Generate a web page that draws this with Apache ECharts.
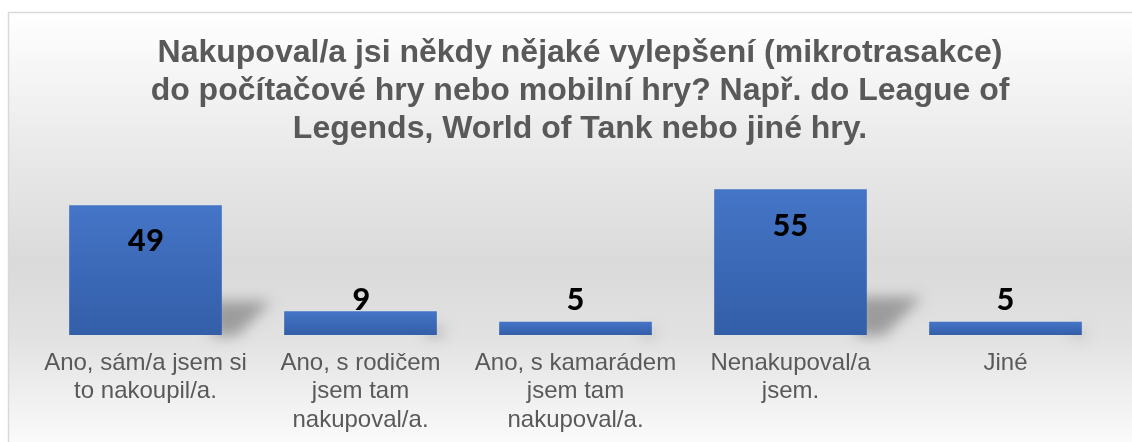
<!DOCTYPE html>
<html>
<head>
<meta charset="utf-8">
<script src="https://cdn.jsdelivr.net/npm/echarts@6/dist/echarts.min.js"></script>
<style>html,body{margin:0;padding:0;background:#fff;}#c{width:1132px;height:442px;}</style>
</head>
<body>
<div id="c"></div>
<script>
const titleText = 'Nakupoval/a jsi někdy nějaké vylepšení (mikrotrasakce)\ndo počítačové hry nebo mobilní hry? Např. do League of\nLegends, World of Tank nebo jiné hry.';
const categories = [
  'Ano, sám/a jsem si\nto nakoupil/a.',
  'Ano, s rodičem\njsem tam\nnakupoval/a.',
  'Ano, s kamarádem\njsem tam\nnakupoval/a.',
  'Nenakupoval/a\njsem.',
  'Jiné'
];
const values = [49, 9, 5, 55, 5];

const chart = echarts.init(document.getElementById('c'), null, {renderer: 'canvas'});
const barRatio = 0.71;
const OFF = 3000;

const barData = values.map(v => ({
  value: v,
  label: v > 15
    ? {position: 'insideTop', distance: 20}
    : {position: 'insideBottom', distance: 16}
}));

chart.setOption({
  animation: false,
  backgroundColor: '#ffffff',
  graphic: [{
    type: 'rect', z: -10, silent: true,
    shape: {x: 8.5, y: 12.5, width: 1140, height: 440},
    style: {
      fill: new echarts.graphic.LinearGradient(0, 0, 0, 1, [
        {offset: 0, color: '#ffffff'},
        {offset: 0.32, color: '#e9e9e9'},
        {offset: 0.57, color: '#dadada'},
        {offset: 0.74, color: '#e2e2e2'},
        {offset: 1, color: '#fdfdfd'}
      ]),
      stroke: '#d9d9d9', lineWidth: 1.5
    }
  }],
  title: {
    text: titleText,
    left: 575, top: 29, textAlign: 'center',
    textStyle: {
      fontFamily: '"Liberation Sans", Arial, sans-serif',
      fontSize: 32, fontWeight: 'bold', color: '#595959', lineHeight: 38
    }
  },
  grid: {left: 38, right: 19, top: 176, bottom: 107, containLabel: false},
  xAxis: {
    type: 'category', data: categories,
    axisLine: {show: false}, axisTick: {show: false},
    axisLabel: {
      interval: 0, margin: 14,
      fontFamily: '"Liberation Sans", Arial, sans-serif',
      fontSize: 24, lineHeight: 28.5, color: '#595959'
    }
  },
  yAxis: {type: 'value', min: 0, max: 60, show: false, splitLine: {show: false}},
  series: [
    {
      type: 'custom', z: 1, silent: true, clip: false,
      data: values.map((v, i) => [i, v]),
      renderItem: function (params, api) {
        const idx = api.value(0), v = api.value(1);
        const top = api.coord([idx, v]);
        const base = api.coord([idx, 0]);
        const w = api.size([1, 0])[0] * barRatio;
        const h = base[1] - top[1];
        const xr = top[0] + w / 2 - OFF;
        const sh = h * 0.26, sx = h * 0.38;
        return {
          type: 'polygon',
          shape: {points: [[xr - 10, base[1] + 1], [xr - 10, base[1] - sh], [xr + sx, base[1] - sh], [xr + sx * 0.3, base[1] + 1]]},
          style: {
            fill: '#000',
            shadowBlur: 14, shadowColor: 'rgba(0,0,0,0.3)',
            shadowOffsetX: OFF, shadowOffsetY: 0
          }
        };
      }
    },
    {
      type: 'bar', z: 2,
      data: barData,
      barWidth: (barRatio * 100) + '%',
      itemStyle: {
        color: new echarts.graphic.LinearGradient(0, 0, 0, 1, [
          {offset: 0, color: '#4575c7'},
          {offset: 1, color: '#335ea8'}
        ])
      },
      label: {
        show: true,
        fontFamily: 'Carlito, "Open Sans", sans-serif',
        fontSize: 35, fontWeight: 'bold', color: '#000000'
      }
    }
  ]
});
</script>
</body>
</html>
